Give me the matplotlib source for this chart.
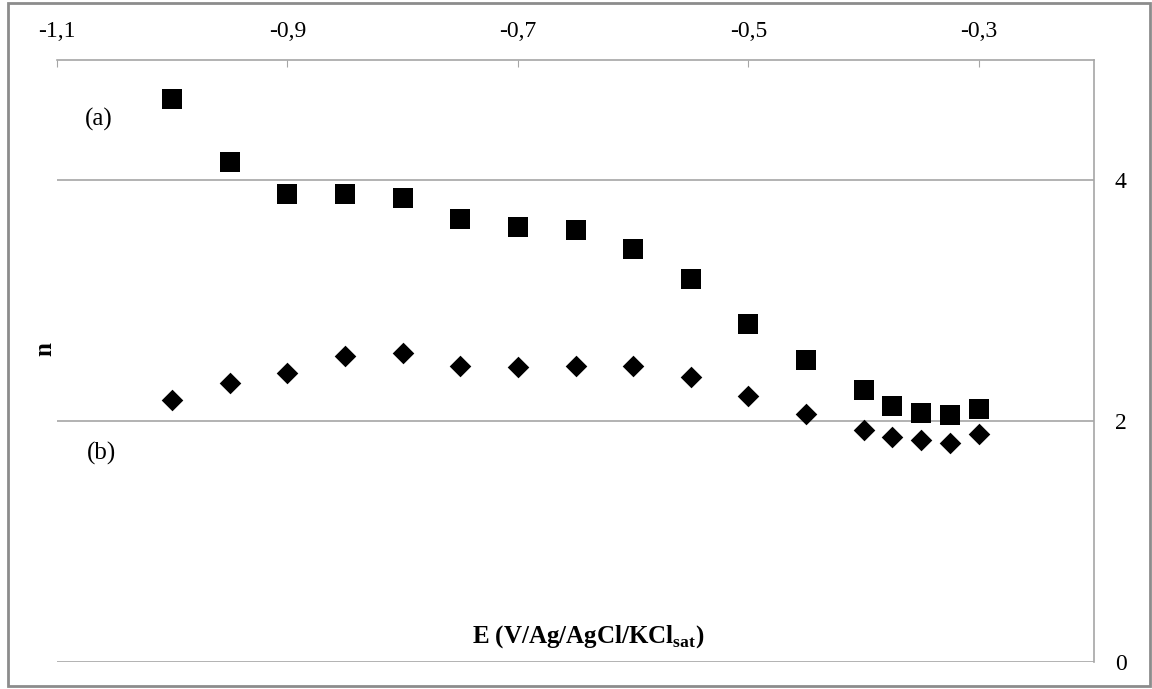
import matplotlib
matplotlib.use("Agg")
import matplotlib.pyplot as plt
from matplotlib.patches import Rectangle

# potential (V vs Ag/AgCl/KCl sat)
E = [-1.0, -0.95, -0.9, -0.85, -0.8, -0.75, -0.7, -0.65, -0.6, -0.55,
     -0.5, -0.45, -0.4, -0.375, -0.35, -0.325, -0.3]
# number of electrons, series (a) and (b)
n_a = [4.68, 4.15, 3.89, 3.89, 3.85, 3.68, 3.61, 3.59, 3.43, 3.18,
       2.81, 2.51, 2.26, 2.13, 2.07, 2.05, 2.10]
n_b = [2.18, 2.32, 2.40, 2.54, 2.57, 2.46, 2.45, 2.46, 2.46, 2.37,
       2.21, 2.06, 1.93, 1.87, 1.84, 1.82, 1.89]

xticks = [-1.1, -0.9, -0.7, -0.5, -0.3]
xticklabels = ['-1,1', '-0,9', '-0,7', '-0,5', '-0,3']
yticks = [0, 2, 4]

plt.rcParams['font.family'] = ['Liberation Serif', 'DejaVu Serif']
plt.rcParams['mathtext.fontset'] = 'custom'
plt.rcParams['mathtext.rm'] = 'Liberation Serif'
plt.rcParams['mathtext.bf'] = 'Liberation Serif:bold'

grey = '#a6a6a6'
fig = plt.figure(figsize=(11.52, 6.89), dpi=100)
ax = fig.add_axes([57/1152, 1 - 662/689, (1094 - 57)/1152, (662 - 60)/689])

ax.scatter(E, n_a, marker='s', s=15**2, color='black', zorder=3, linewidths=0)
ax.scatter(E, n_b, marker='D', s=11**2, color='black', zorder=3, linewidths=0)

ax.set_xlim(-1.1, -0.2)
ax.set_ylim(0, 5)

# x axis on top, y axis on the right
ax.xaxis.tick_top()
ax.set_xticks(xticks)
ax.set_xticklabels(xticklabels)
ax.tick_params(axis='x', direction='in', length=5, color=grey, labelsize=17, pad=13)

ax.yaxis.tick_right()
ax.set_yticks(yticks)
ax.tick_params(axis='y', length=0, labelsize=17, pad=15)

ax.spines['left'].set_visible(False)
ax.spines['bottom'].set_visible(False)
for s in ('top', 'right'):
    ax.spines[s].set_color(grey)
    ax.spines[s].set_linewidth(1.2)

for y in yticks:
    ax.axhline(y, color=grey, lw=1.2, zorder=1)

fig.text(99/1152, 1 - 119/689, '(a)', ha='center', va='center', fontsize=18)
fig.text(101/1152, 1 - 453/689, '(b)', ha='center', va='center', fontsize=18)
fig.text(45/1152, 1 - 349/689, 'n', rotation=90, ha='center', va='center',
         fontsize=18, fontweight='bold')
fig.text(588/1152, 1 - 637/689, r'E (V/Ag/AgCl/KCl$_{\mathbf{sat}}$)',
         ha='center', va='center', fontsize=18, fontweight='bold')

# frame around the whole figure
fig.patches.append(Rectangle((8/1152, 3/689), 1142/1152, 683/689,
                             transform=fig.transFigure, fill=False,
                             edgecolor='#8c8c8c', lw=2))

fig.savefig('out.png', dpi=100)
